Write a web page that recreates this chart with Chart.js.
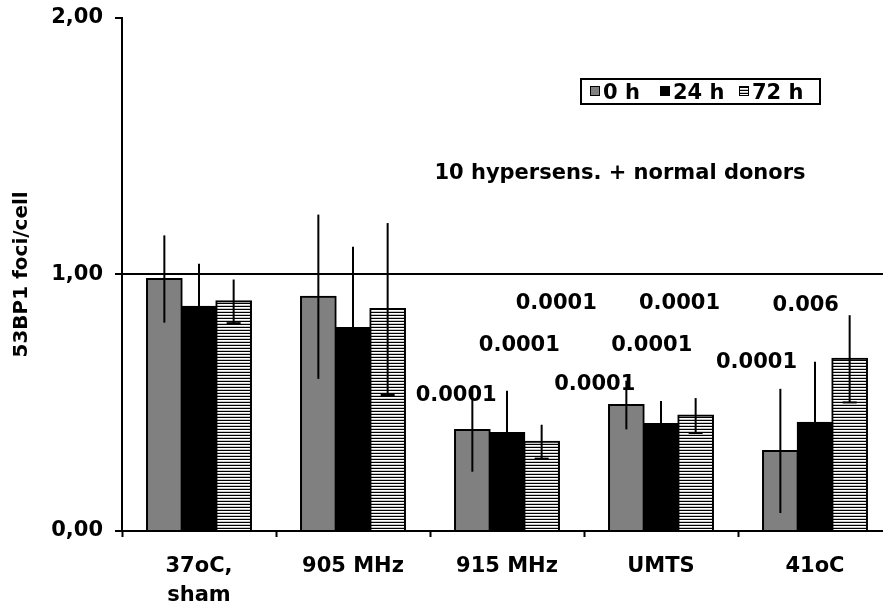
<!DOCTYPE html>
<html>
<head>
<meta charset="utf-8">
<script src="https://cdn.jsdelivr.net/npm/chart.js@4"></script>
<style>
  html, body { margin: 0; padding: 0; overflow: hidden; background: #fff; }
</style>
</head>
<body>
<canvas id="myChart" width="900" height="610"></canvas>
<script>
const categories = [["37oC,", "sham"], "905 MHz", "915 MHz", "UMTS", "41oC"];
const yTickLabels = ["0,00", "1,00", "2,00"];
const seriesNames = ["0 h", "24 h", "72 h"];

const values0h = [0.982, 0.913, 0.394, 0.491, 0.312];
const values24h = [0.874, 0.791, 0.382, 0.417, 0.422];
const values72h = [0.895, 0.865, 0.348, 0.450, 0.671];

const err0h = [0.17, 0.32, 0.163, 0.095, 0.242];
const err24h = [0.167, 0.317, 0.165, 0.09, 0.238];
const err72h = [0.085, 0.335, 0.066, 0.068, 0.17];

const pText0h = ["", "", "0.0001", "0.0001", "0.0001"];
const pText24h = ["", "", "0.0001", "0.0001", ""];
const pText72h = ["", "", "0.0001", "0.0001", "0.006"];

const noteText = "10 hypersens. + normal donors";
const yTitle = "53BP1 foci/cell";

const FONT = "'DejaVu Sans', sans-serif";
const ctx = document.getElementById("myChart").getContext("2d");

// horizontal stripes for the 72 h bars
const tile = document.createElement("canvas");
tile.width = 8;
tile.height = 3;
const tg = tile.getContext("2d");
tg.fillStyle = "#fff";
tg.fillRect(0, 0, 8, 3);
tg.fillStyle = "#000";
tg.fillRect(0, 0, 8, 1);
tg.fillStyle = "#c8c8c8";
tg.fillRect(0, 2, 8, 1);
const stripes = ctx.createPattern(tile, "repeat");

// where each p-value sits: category offset and y value
const pSpots = [
  [null, null, { dx: -0.33, y: 0.538 }, { dx: -0.43, y: 0.581 }, { dx: -0.38, y: 0.667 }],
  [null, null, { dx: 0.08, y: 0.733 }, { dx: -0.06, y: 0.733 }, null],
  [null, null, { dx: 0.32, y: 0.897 }, { dx: 0.12, y: 0.897 }, { dx: -0.06, y: 0.889 }],
];

const errorBars = {
  id: "errorBars",
  afterDatasetsDraw(chart) {
    const { ctx, scales: { y } } = chart;
    ctx.save();
    ctx.strokeStyle = "#000";
    ctx.lineWidth = 2;
    chart.data.datasets.forEach((ds, di) => {
      chart.getDatasetMeta(di).data.forEach((bar, i) => {
        const v = ds.data[i], e = ds.errors[i];
        const top = y.getPixelForValue(v + e);
        const bot = y.getPixelForValue(v - e);
        ctx.beginPath();
        ctx.moveTo(bar.x, top);
        ctx.lineTo(bar.x, bot);
        ctx.stroke();
        if (ds.lowerCap) {
          ctx.beginPath();
          ctx.moveTo(bar.x - 7, bot);
          ctx.lineTo(bar.x + 7, bot);
          ctx.stroke();
        }
      });
    });
    ctx.restore();
  },
};

const extras = {
  id: "extras",
  afterDraw(chart) {
    const { ctx, scales: { x, y } } = chart;
    ctx.save();
    ctx.fillStyle = "#000";
    ctx.font = "bold 21px " + FONT;
    ctx.textAlign = "center";
    ctx.textBaseline = "alphabetic";

    // p-values
    chart.data.datasets.forEach((ds, di) => {
      ds.pTexts.forEach((t, i) => {
        const s = pSpots[di][i];
        if (!t || !s) return;
        ctx.fillText(t, x.getPixelForValue(i + s.dx), y.getPixelForValue(s.y) + 8);
      });
    });

    // note
    ctx.fillText(noteText, 620, 179);

    // legend box
    ctx.lineWidth = 2;
    ctx.strokeStyle = "#000";
    ctx.strokeRect(581, 79, 239, 25);
    ctx.textAlign = "left";
    const lx = [590, 660, 739];
    chart.data.datasets.forEach((ds, di) => {
      ctx.fillStyle = ds.backgroundColor;
      ctx.fillRect(lx[di], 86, 10, 10);
      ctx.lineWidth = 1;
      ctx.strokeRect(lx[di] + 0.5, 86.5, 9, 9);
      ctx.fillStyle = "#000";
      ctx.fillText(ds.label, lx[di] + 13, 99);
    });
    ctx.restore();
  },
};

const chart = new Chart(ctx, {
  type: "bar",
  data: {
    labels: categories,
    datasets: [
      {
        label: seriesNames[0],
        data: values0h,
        errors: err0h,
        pTexts: pText0h,
        backgroundColor: "#808080",
        borderColor: "#000",
        borderWidth: 2,
      },
      {
        label: seriesNames[1],
        data: values24h,
        errors: err24h,
        pTexts: pText24h,
        backgroundColor: "#000",
        borderColor: "#000",
        borderWidth: 2,
      },
      {
        label: seriesNames[2],
        data: values72h,
        errors: err72h,
        pTexts: pText72h,
        lowerCap: true,
        backgroundColor: stripes,
        borderColor: "#000",
        borderWidth: 2,
      },
    ],
  },
  options: {
    responsive: false,
    animation: false,
    datasets: { bar: { categoryPercentage: 0.675, barPercentage: 1, inflateAmount: 1 } },
    layout: { padding: { top: 0, right: 8, left: 0, bottom: 0 } },
    plugins: { legend: { display: false }, tooltip: { enabled: false } },
    scales: {
      x: {
        grid: { drawOnChartArea: false, offset: true, tickLength: 6, tickColor: "#000", tickWidth: 2 },
        border: { color: "#000", width: 2 },
        ticks: {
          color: "#000",
          autoSkip: false,
          maxRotation: 0,
          padding: 15,
          font: { family: FONT, weight: "bold", size: 21, lineHeight: 1.38 },
        },
        afterFit: (s) => { s.height = 79; },
      },
      y: {
        min: 0,
        max: 2,
        ticks: {
          stepSize: 1,
          color: "#000",
          padding: 12,
          font: { family: FONT, weight: "bold", size: 21, lineHeight: 0.55 },
          callback: (v, i) => yTickLabels[i],
        },
        grid: {
          color: (c) => (c.tick && c.tick.value === 1 ? "#000" : "rgba(0,0,0,0)"),
          lineWidth: 2,
          tickColor: "#000",
          tickLength: 7,
          tickWidth: 2,
        },
        border: { color: "#000", width: 2 },
        title: {
          display: true,
          text: yTitle,
          color: "#000",
          padding: { top: 10, bottom: 0 },
          font: { family: FONT, weight: "bold", size: 20 },
        },
        afterFit: (s) => { s.width = 122; },
      },
    },
  },
  plugins: [errorBars, extras],
});
</script>
</body>
</html>
